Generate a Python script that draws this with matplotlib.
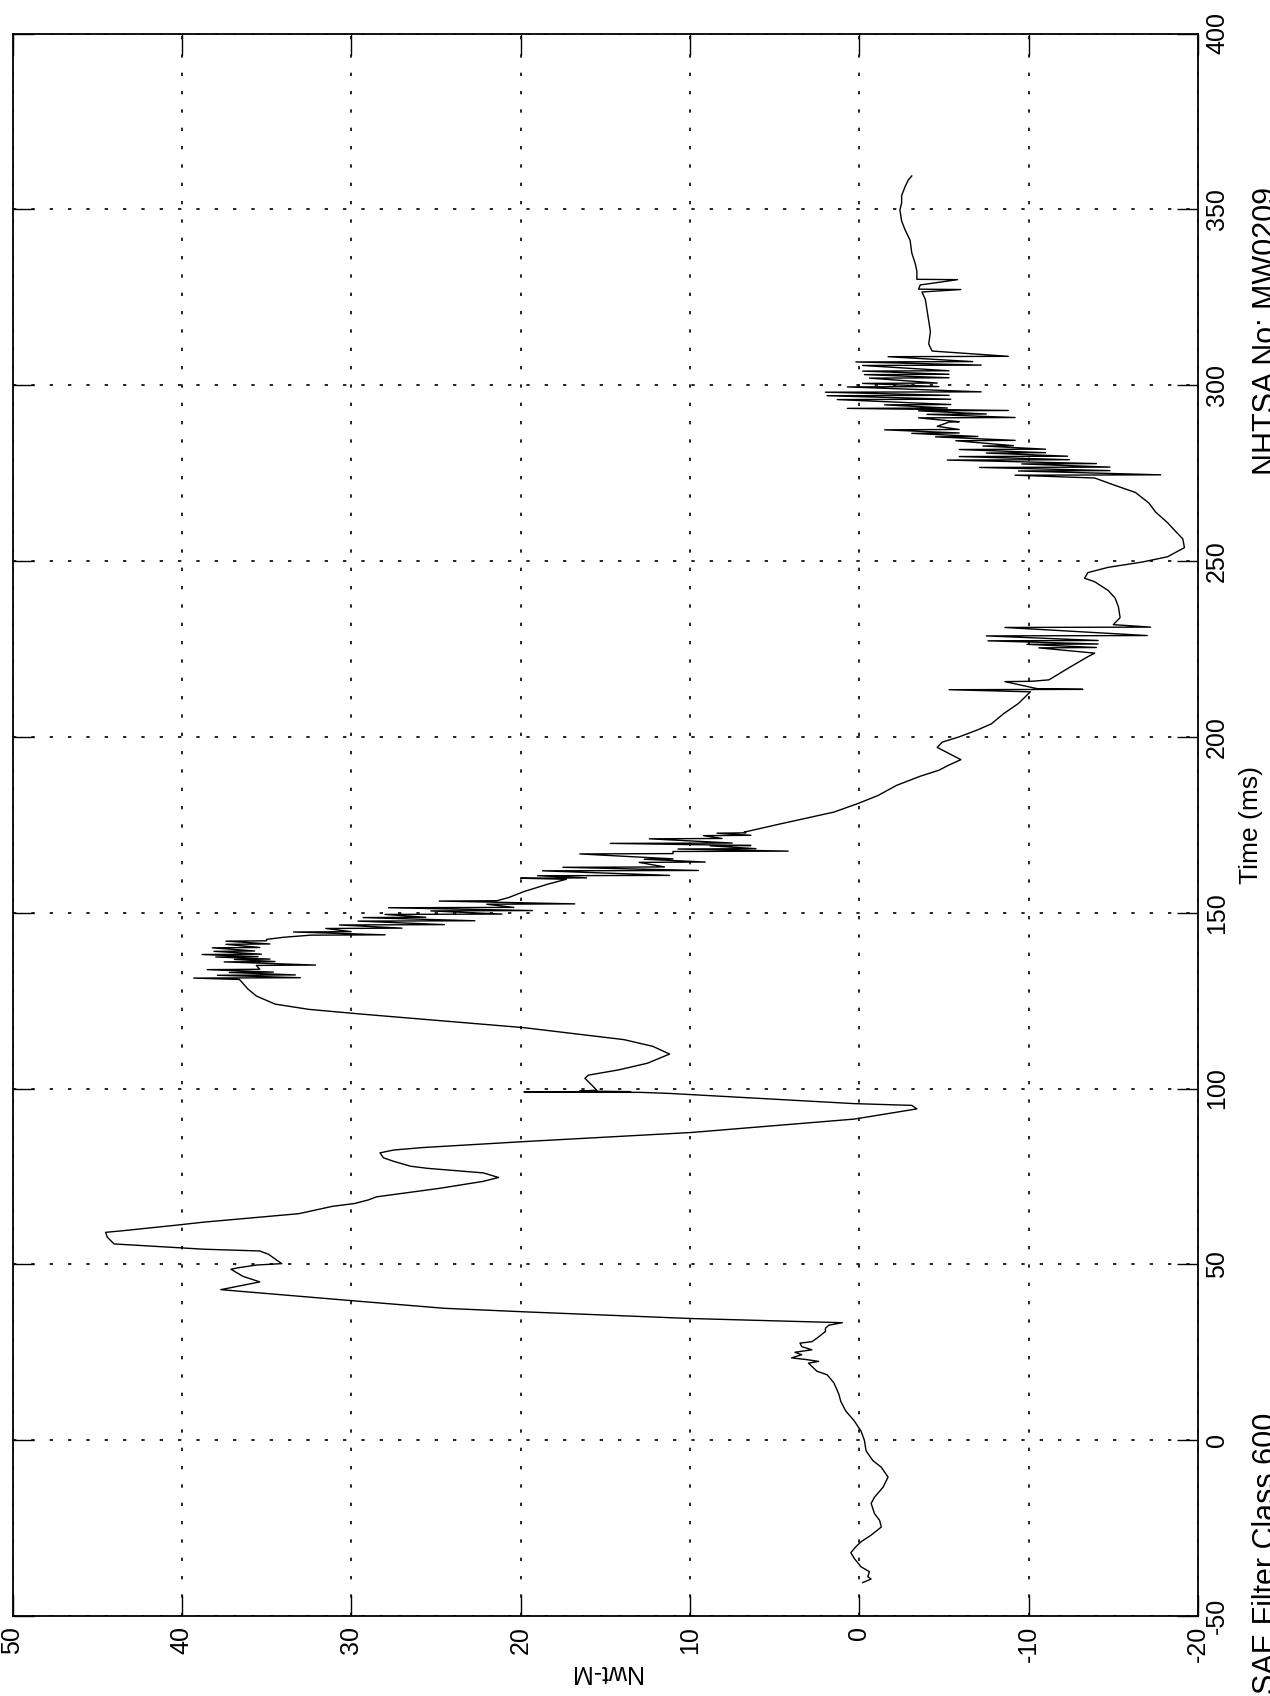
import matplotlib
matplotlib.use('Agg')
import matplotlib.pyplot as plt

plt.rcParams['font.family'] = ['Liberation Sans', 'DejaVu Sans']
plt.rcParams['axes.unicode_minus'] = False

# Time (ms) and moment (Nwt-M), in segments
t_pre = [-40.5, -39.5, -38.8, -37.4, -36.0, -33.6, -32.0, -30.3, -28.9, -27.0, -24.7, -22.8,
         -20.9, -18.0, -16.2, -13.4, -10.5, -7.7, -5.8, -3.0, 0.0, 2.6, 5.5, 8.3, 11.1, 13.0,
         16.3, 18.6, 19.6, 21.0, 21.9, 22.4, 22.9, 23.4, 24.3, 25.0, 25.7, 26.6, 27.6, 28.0,
         29.0, 30.9, 31.8, 32.7, 33.4]
m_pre = [-0.2, -0.7, -0.5, -0.6, -0.1, 0.3, 0.5, 0.2, -0.1, -0.7, -1.3, -1.2,
         -0.9, -0.7, -0.9, -1.4, -1.7, -1.3, -0.8, -0.4, -0.3, -0.1, 0.3, 0.8, 1.1, 1.2,
         1.5, 1.9, 2.5, 2.8, 3.0, 2.4, 3.1, 4.0, 3.4, 3.8, 2.8, 3.4, 3.5, 2.8,
         2.5, 2.0, 2.0, 1.8, 1.0]

t_hump = [34.6, 36.5, 37.5, 39.6, 42.8, 45.0, 46.6, 48.6, 49.0, 49.8, 50.2, 52.9, 53.8,
          54.3, 55.8, 57.7, 59.1, 59.6, 61.1, 62.0, 64.4, 66.5, 67.3, 68.3, 69.2, 71.6,
          73.6, 74.7, 76.0, 77.3, 77.9, 79.3, 80.3, 81.7, 82.5, 83.2, 84.9, 87.5, 91.3,
          94.2, 95.2, 95.7, 98.6, 98.9, 99.0, 99.1, 99.3, 99.5, 101.0, 102.9, 103.8,
          105.3, 107.2, 109.8, 112.0, 113.9, 117.3, 121.2, 122.5, 124.0, 126.3, 128.3, 131.0]
m_hump = [10.0, 19.8, 24.5, 29.8, 37.7, 35.4, 36.4, 37.1, 36.7, 35.6, 34.1, 34.9, 35.4,
          38.7, 44.0, 44.4, 44.5, 43.4, 40.4, 38.7, 33.1, 31.1, 29.8, 29.0, 28.5, 24.8,
          22.2, 21.3, 22.2, 25.5, 26.5, 27.5, 28.1, 28.3, 27.5, 25.8, 19.8, 9.9, 0.3,
          -3.4, -3.1, 0.3, 11.2, 12.9, 19.8, 13.5, 16.5, 15.5, 15.8, 16.2, 16.0,
          14.2, 12.5, 11.2, 12.2, 13.9, 19.8, 29.5, 32.5, 34.5, 35.6, 36.1, 36.6]

t_peak = [131.4, 131.5, 132.2, 132.3, 133.0, 133.1, 133.8, 133.9, 135.0, 135.1, 136.0, 136.1,
          136.7, 136.8, 137.4, 137.5, 138.1, 138.2, 139.0, 139.1, 140.0, 140.1, 141.0, 141.1,
          141.9, 142.0, 142.4, 143.0, 143.6, 143.7, 144.5, 144.6, 145.5, 145.6, 146.5, 146.6,
          147.6, 147.7, 148.6, 148.7, 149.5, 149.6, 150.5, 150.6, 151.4, 151.5, 152.4, 152.5,
          153.3, 153.4, 154.3, 156.0, 158.1, 159.5]
m_peak = [39.3, 33.0, 37.9, 33.3, 37.2, 34.6, 38.5, 35.4, 35.6, 32.1, 37.5, 34.5,
          36.9, 34.8, 38.0, 35.5, 38.8, 35.3, 38.1, 35.7, 38.2, 35.4, 37.4, 34.8,
          37.4, 35.0, 35.0, 34.0, 32.4, 28.0, 33.4, 30.0, 31.5, 27.0, 30.7, 24.5,
          29.6, 22.7, 29.3, 25.6, 28.0, 21.1, 25.3, 19.3, 27.8, 20.4, 22.0, 16.8,
          24.8, 21.4, 20.7, 19.8, 18.4, 17.3]

t_fall = [159.8, 159.9, 160.5, 160.6, 161.9, 162.0, 162.9, 163.0, 164.3, 164.4, 165.2, 165.3,
          166.7, 166.8, 167.4, 167.5, 168.1, 168.2, 169.0, 169.1, 169.7, 169.8, 171.0, 171.1,
          171.9, 172.0, 172.6, 172.7, 172.9, 175.2, 177.1, 178.6, 181.0, 183.3, 186.2, 188.8,
          190.5, 192.0, 193.5, 195.0, 197.0, 198.5, 200.0, 202.0, 203.7, 206.5, 209.5, 212.8,
          213.4, 213.5, 213.7, 215.7, 215.8, 216.2, 219.7, 222.8, 223.8]
m_fall = [20.0, 16.1, 19.0, 11.2, 18.7, 9.5, 17.5, 11.5, 13.0, 9.1, 12.7, 11.0,
          16.5, 11.0, 11.0, 4.2, 10.7, 6.1, 8.8, 6.4, 14.7, 7.5, 12.4, 8.1,
          9.2, 6.4, 8.4, 6.7, 6.8, 4.7, 2.9, 1.5, 0.1, -1.1, -2.2, -3.6,
          -4.7, -5.3, -6.0, -5.4, -4.6, -4.9, -5.9, -7.0, -7.8, -8.5, -9.4, -10.1,
          -5.3, -13.2, -10.5, -8.6, -10.2, -11.2, -12.4, -13.5, -13.9]

t_dip = [225.3, 225.4, 226.3, 226.4, 227.3, 227.4, 228.7, 228.8, 231.1, 231.2, 231.9, 233.9,
         237.0, 239.5, 241.6, 244.1, 245.1, 246.7, 248.2, 249.7, 251.2, 253.8, 256.3, 258.3,
         260.9, 263.9, 266.5, 269.5, 271.5, 273.6]
m_dip = [-10.6, -14.0, -9.9, -14.1, -7.6, -14.1, -7.5, -17.0, -8.6, -17.2, -15.0, -15.4,
         -15.3, -15.1, -14.7, -13.9, -13.3, -13.5, -14.7, -16.7, -18.2, -19.2, -19.1, -18.7,
         -18.2, -17.5, -17.1, -16.3, -15.1, -13.9]

t_late = [274.4, 274.5, 275.6, 275.7, 276.6, 276.7, 277.6, 277.7, 278.7, 278.8, 279.7, 279.8,
          280.7, 280.8, 281.7, 281.8, 282.7, 282.8, 284.2, 284.3, 285.3, 285.4, 286.3, 286.4,
          287.3, 287.4, 288.3, 289.5, 289.6, 290.7, 290.8, 291.7, 291.8, 292.7, 292.8, 293.4,
          293.5, 294.4, 294.5, 295.9, 296.0, 297.0, 297.1, 298.0, 298.1, 299.5, 299.6, 300.5,
          300.6, 302.0, 302.1, 303.0, 303.1, 304.0, 304.1, 305.6, 305.7, 306.6, 306.7, 308.1,
          308.2, 309.7, 311.7, 315.2, 318.3, 321.3, 324.4, 326.5, 327.2, 327.3, 328.5, 330.0,
          330.1, 332.5, 334.6, 337.6, 341.2, 344.2, 346.7, 349.8, 351.8, 353.9, 356.4, 358.4,
          359.5]
m_late = [-9.2, -17.8, -9.4, -14.8, -7.1, -14.8, -9.6, -14.0, -5.2, -12.4, -5.9, -12.3,
          -7.5, -11.0, -5.9, -11.0, -7.3, -9.1, -5.7, -9.2, -4.5, -7.0, -3.1, -5.9,
          -1.5, -5.9, -4.6, -5.3, -5.9, -3.5, -9.2, -4.0, -7.5, -3.5, -8.8, 0.7,
          -5.2, -1.5, -5.4, 1.3, -5.4, 1.9, -5.3, 2.0, -7.2, 0.7, -4.7, -0.2,
          -4.6, -0.6, -5.3, -0.3, -5.3, -0.2, -5.3, -0.2, -7.2, 0.2, -6.7, -1.7,
          -8.8, -4.3, -4.1, -4.2, -4.1, -4.0, -3.9, -3.7, -6.0, -3.5, -3.6, -5.8,
          -3.4, -3.4, -3.3, -3.1, -3.0, -2.7, -2.5, -2.4, -2.5, -2.5, -2.7, -2.9,
          -3.1]

time_ticks = [-50, 0, 50, 100, 150, 200, 250, 300, 350, 400]
moment_ticks = [-20, -10, 0, 10, 20, 30, 40, 50]

time_ms = t_pre + t_hump + t_peak + t_fall + t_dip + t_late
moment = m_pre + m_hump + m_peak + m_fall + m_dip + m_late

W, H = 1270, 1696
fig = plt.figure(figsize=(W / 100, H / 100), dpi=100)
ax = fig.add_axes([12.5 / W, 1 - 1616 / H, (1198 - 12.5) / W, (1616 - 33.5) / H])

# the page is a landscape plot turned a quarter turn: moment runs right-to-left, time upward
ax.plot(moment, time_ms, color='black', lw=1.0)
ax.set_xlim(50, -20)
ax.set_ylim(-50, 400)
ax.set_xticks(moment_ticks)
ax.set_yticks(time_ticks)
ax.grid(True, color='black', lw=1.2, linestyle=(0, (2, 9)))

for sp in ax.spines.values():
    sp.set_linewidth(1.3)

ax.tick_params(axis='both', direction='in', length=15, width=1.0, labelsize=18,
               top=True, bottom=True, left=True, right=True,
               labelleft=False, labelright=True)
ax.tick_params(axis='x', pad=7)
ax.tick_params(axis='y', pad=5)
plt.setp(ax.get_xticklabels(), rotation=90)
plt.setp(ax.get_yticklabels(), rotation=90, va='center')

ax.set_xlabel('Nwt-M', fontsize=18, rotation=180)
ax.xaxis.set_label_coords(0.5, -0.028)
ax.yaxis.set_label_position('right')
ax.set_ylabel('Time (ms)', fontsize=19)
ax.yaxis.set_label_coords(1.035, 0.5)

# footer texts sit on the page edge, partly cut off as on the scanned sheet
fig.text(1252 / W, 2 / H, 'SAE Filter Class 600', rotation=90, fontsize=22,
         ha='left', va='bottom')
fig.text(1252 / W, 1 - 187 / H, 'NHTSA No: MW0209', rotation=90, fontsize=22,
         ha='left', va='top')

fig.savefig('out.png', dpi=100, facecolor='white')
